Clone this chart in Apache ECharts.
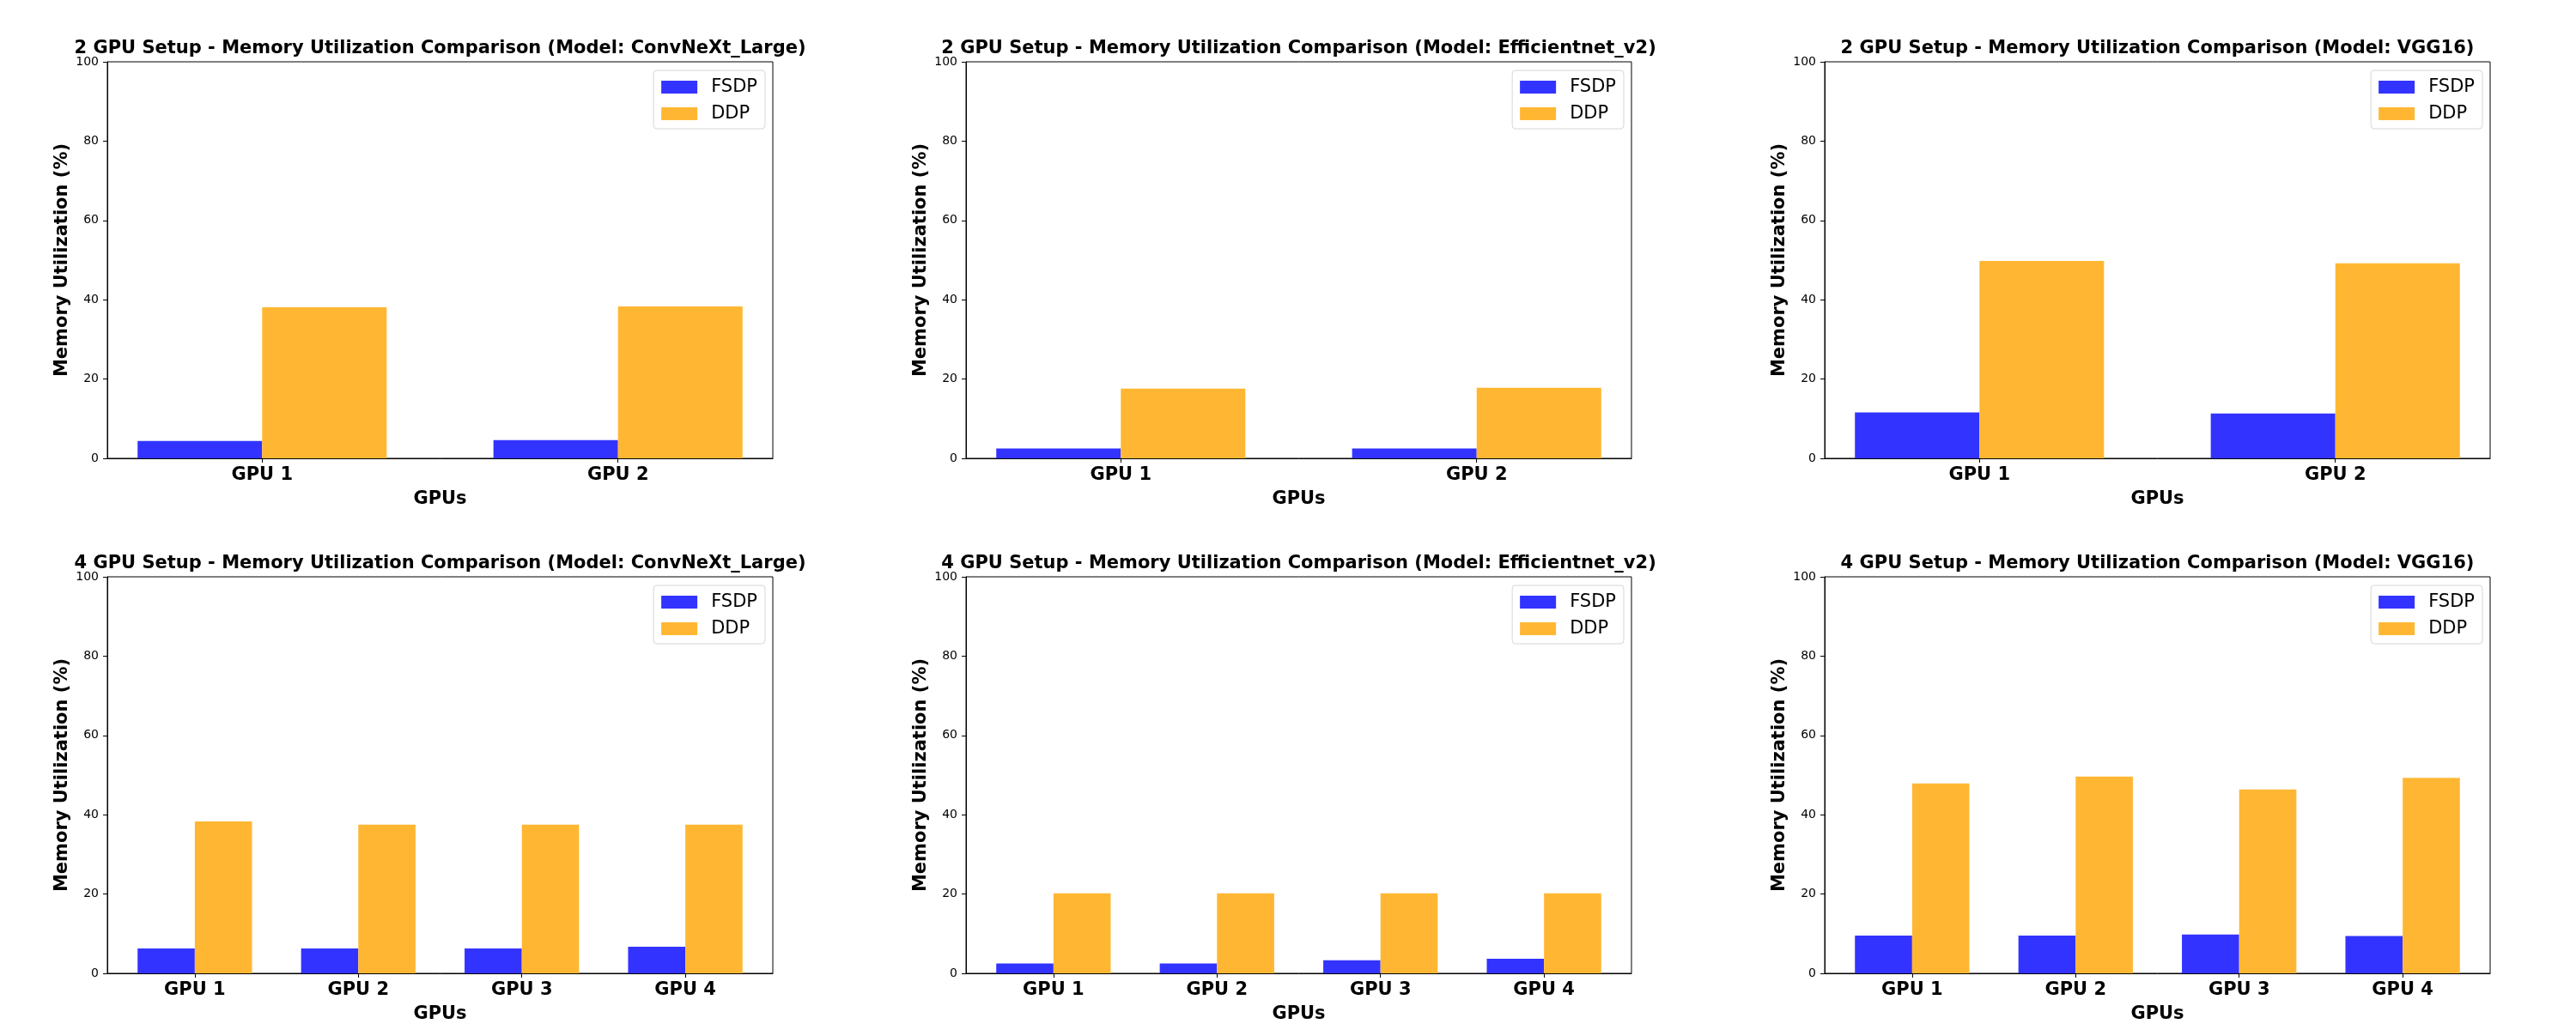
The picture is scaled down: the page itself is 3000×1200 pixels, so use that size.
<!DOCTYPE html>
<html><head><meta charset="utf-8">
<script src="https://cdn.jsdelivr.net/npm/echarts@6/dist/echarts.min.js"></script>
<style>html,body{margin:0;padding:0;background:#fff}#c{width:3000px;height:1200px}</style>
</head><body><div id="c"></div>
<script>
// ---- data ----
const gpus2 = ['GPU 1', 'GPU 2'];
const gpus4 = ['GPU 1', 'GPU 2', 'GPU 3', 'GPU 4'];
const models = ['ConvNeXt_Large', 'Efficientnet_v2', 'VGG16'];
const seriesNames = ['FSDP', 'DDP'];
const yTicks = [0, 20, 40, 60, 80, 100];

const fsdp2_convnext = [4.4, 4.6];
const ddp2_convnext  = [38.1, 38.3];
const fsdp2_effnet   = [2.5, 2.5];
const ddp2_effnet    = [17.6, 17.8];
const fsdp2_vgg      = [11.6, 11.3];
const ddp2_vgg       = [49.8, 49.2];

const fsdp4_convnext = [6.3, 6.3, 6.3, 6.7];
const ddp4_convnext  = [38.3, 37.5, 37.5, 37.5];
const fsdp4_effnet   = [2.5, 2.5, 3.3, 3.7];
const ddp4_effnet    = [20.2, 20.2, 20.2, 20.2];
const fsdp4_vgg      = [9.5, 9.5, 9.8, 9.4];
const ddp4_vgg       = [47.9, 49.6, 46.4, 49.3];

const panels = [
  {setup: 2, model: models[0], cats: gpus2, fsdp: fsdp2_convnext, ddp: ddp2_convnext},
  {setup: 2, model: models[1], cats: gpus2, fsdp: fsdp2_effnet,   ddp: ddp2_effnet},
  {setup: 2, model: models[2], cats: gpus2, fsdp: fsdp2_vgg,      ddp: ddp2_vgg},
  {setup: 4, model: models[0], cats: gpus4, fsdp: fsdp4_convnext, ddp: ddp4_convnext},
  {setup: 4, model: models[1], cats: gpus4, fsdp: fsdp4_effnet,   ddp: ddp4_effnet},
  {setup: 4, model: models[2], cats: gpus4, fsdp: fsdp4_vgg,      ddp: ddp4_vgg}
];

// ---- layout / style ----
const W = 3000;
const FONT = 'DejaVu Sans';
const BIG = 21;
const colors = {FSDP: '#3333ff', DDP: '#ffb733'};
const gridW = 775, gridH = 462;
const colLeft = [125, 1125, 2125];
const rowTop = [72, 672];

const chart = echarts.init(document.getElementById('c'), null, {renderer: 'canvas'});
const option = {
  backgroundColor: '#ffffff',
  animation: false,
  title: [], grid: [], xAxis: [], yAxis: [], legend: [], series: []
};

panels.forEach((p, i) => {
  const r = Math.floor(i / 3), c = i % 3;
  const left = colLeft[c], top = rowTop[r];
  const n = p.cats.length;
  const span = (n - 1) + 0.7;
  const xmin = -0.35 - 0.05 * span;
  const xmax = (n - 1) + 0.35 + 0.05 * span;
  const idx = p.cats.map((_, k) => k);

  option.title.push({
    text: p.setup + ' GPU Setup - Memory Utilization Comparison (Model: ' + p.model + ')',
    left: left + gridW / 2, top: top - 26, textAlign: 'center', padding: 0,
    textStyle: {fontFamily: FONT, fontWeight: 'bold', fontSize: BIG, color: '#000'}
  });
  option.grid.push({
    left: left, top: top, width: gridW, height: gridH,
    show: true, borderColor: '#000', borderWidth: 1, backgroundColor: 'transparent'
  });
  option.xAxis.push({
    type: 'value', gridIndex: i, min: xmin, max: xmax,
    name: 'GPUs', nameLocation: 'middle', nameGap: 37,
    nameTextStyle: {fontFamily: FONT, fontWeight: 'bold', fontSize: BIG, color: '#000'},
    splitLine: {show: false},
    axisLine: {show: true, onZero: false, lineStyle: {color: '#000', width: 1}},
    axisTick: {show: true, length: 5, customValues: idx, lineStyle: {color: '#000', width: 1}},
    axisLabel: {
      customValues: idx, margin: 9,
      formatter: (v) => p.cats[Math.round(v)],
      fontFamily: FONT, fontWeight: 'bold', fontSize: BIG, color: '#000'
    }
  });
  option.yAxis.push({
    type: 'value', gridIndex: i, min: 0, max: 100, interval: 20,
    name: 'Memory Utilization (%)', nameLocation: 'middle', nameGap: 42,
    nameTextStyle: {fontFamily: FONT, fontWeight: 'bold', fontSize: BIG, color: '#000'},
    splitLine: {show: false},
    axisLine: {show: true, onZero: false, lineStyle: {color: '#000', width: 1}},
    axisTick: {show: true, length: 5, lineStyle: {color: '#000', width: 1}},
    axisLabel: {
      margin: 10, fontFamily: FONT, fontSize: 14, color: '#000',
      customValues: yTicks
    }
  });
  option.legend.push({
    data: seriesNames, orient: 'vertical',
    right: W - (left + gridW - 9), top: top + 10,
    selectedMode: false,
    icon: 'rect', itemWidth: 42, itemHeight: 15, itemGap: 10,
    padding: [9, 9, 7, 9],
    backgroundColor: '#fff', borderColor: '#d6d6d6', borderWidth: 1, borderRadius: 4,
    textStyle: {fontFamily: FONT, fontSize: BIG, color: '#000', padding: [0, 0, 0, 11]}
  });
  [['FSDP', p.fsdp], ['DDP', p.ddp]].forEach(([name, vals]) => {
    option.series.push({
      type: 'bar', name: name, xAxisIndex: i, yAxisIndex: i,
      barGap: '0%', barCategoryGap: '30%',
      itemStyle: {color: colors[name]},
      data: vals.map((v, k) => [k, v])
    });
  });
});

chart.setOption(option);
</script>
</body></html>
